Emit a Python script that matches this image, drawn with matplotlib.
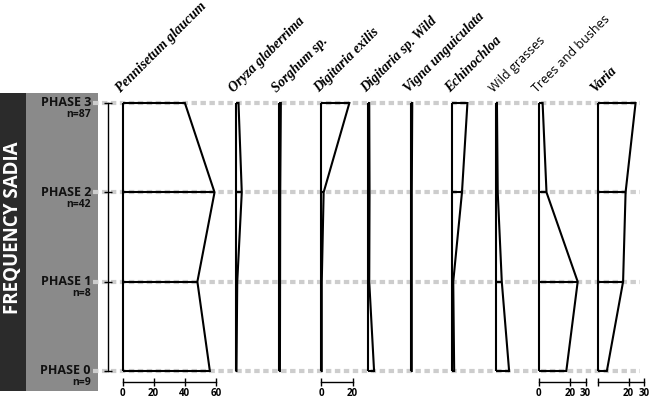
import matplotlib
matplotlib.use("Agg")
import matplotlib.pyplot as plt
from matplotlib.patches import Rectangle

# phases, bottom (oldest) to top
phases = [0, 1, 2, 3]
phase_labels = ["PHASE 0", "PHASE 1", "PHASE 2", "PHASE 3"]
sample_n = [9, 8, 42, 87]

taxa = ["Pennisetum glaucum", "Oryza glaberrima", "Sorghum sp.", "Digitaria exilis",
        "Digitaria sp. Wild", "Vigna unguiculata", "Echinochloa", "Wild grasses",
        "Trees and bushes", "Varia"]

# frequency (%) per phase 0..3
pennisetum = [56, 48, 59, 40]
oryza = [0.3, 0.8, 3.7, 1.6]
sorghum = [0.4, 0.5, 0.6, 1.0]
digitaria_exilis = [0.3, 0.3, 1.5, 18]
digitaria_wild = [3.7, 0.6, 0.8, 0.6]
vigna = [0.5, 0.5, 0.5, 0.8]
echinochloa = [1.2, 0.6, 6.2, 9.7]
wild_grasses = [8.6, 3.9, 1.3, 0.8]
trees_bushes = [17.7, 25, 5, 2.5]
varia = [6, 16.4, 18, 24.4]

series = [pennisetum, oryza, sorghum, digitaria_exilis, digitaria_wild,
          vigna, echinochloa, wild_grasses, trees_bushes, varia]

# scale bars under some panels
scale_ticks = {0: [0, 20, 40, 60], 3: [0, 20], 8: [0, 20, 30], 9: [0, 20, 30]}
scale_labels = {0: ["0", "20", "40", "60"], 3: ["0", "20"], 8: ["0", "20", "30"], 9: ["", "20", "30"]}

# layout (pixels on a 649x400 canvas)
W, H = 649, 400
panel_x0 = [122.5, 236, 279.3, 321.3, 368.3, 411, 452.3, 495.7, 538.7, 597.5]
px_per_unit = 1.56
y_top, y_bot = 103, 371
sans = ["Open Sans", "DejaVu Sans"]
serif = ["Liberation Serif", "DejaVu Serif"]

fig = plt.figure(figsize=(W / 100, H / 100), dpi=100)
bottom = 1 - y_bot / H
height = (y_bot - y_top) / H

# side boxes (behind the axes)
fig.add_artist(Rectangle((0, 1 - 391 / H), 26 / W, 298 / H, transform=fig.transFigure,
                         facecolor="#2b2b2b", edgecolor="none", zorder=-2))
fig.add_artist(Rectangle((26 / W, 1 - 391 / H), 72 / W, 298 / H, transform=fig.transFigure,
                         facecolor="#8a8a8a", edgecolor="none", zorder=-2))
fig.text(13.5 / W, 1 - 228 / H, "FREQUENCY SADIA", rotation=90, ha="center", va="center",
         color="white", fontsize=13.5, fontweight="bold", family=sans)

# background axes: dashed phase lines and labels
bg = fig.add_axes([0, bottom, 1, height])
bg.set_xlim(0, W)
bg.set_ylim(0, 3)
bg.axis("off")
bg.hlines(phases, 93, 640, colors="#cdcdcd", linewidth=3, linestyles=[(0, (1.3, 0.85))],
          capstyle="butt", clip_on=False)
for ph, lab, n in zip(phases, phase_labels, sample_n):
    bg.text(91, ph, lab, ha="right", va="center", fontsize=9, fontweight="bold",
            family=sans, color="#111111")
    bg.annotate(f"n={n}", xy=(91, ph), xytext=(0, -8.5), textcoords="offset points",
                ha="right", va="center", fontsize=7.5, fontweight="bold", family=sans,
                color="#111111", annotation_clip=False)

for i, (name, vals) in enumerate(zip(taxa, series)):
    xmax = 62 if i == 0 else 31
    ax = fig.add_axes([panel_x0[i] / W, bottom, xmax * px_per_unit / W, height])
    ax.set_xlim(0, xmax)
    ax.set_ylim(0, 3)
    ax.patch.set_visible(False)
    for s in ax.spines.values():
        s.set_visible(False)
    ax.set_yticks([])
    ax.set_xticks([])

    ax.vlines(0, 0, 3, colors="black", linewidth=1.5, clip_on=False)
    ax.hlines(phases, 0, vals, colors="black", linewidth=1.5, clip_on=False)
    ax.plot(vals, phases, color="black", linewidth=1.5, clip_on=False)

    if i in scale_ticks:
        ticks = scale_ticks[i]
        sp = ax.spines["bottom"]
        sp.set_visible(True)
        sp.set_position(("outward", 8))
        sp.set_bounds(ticks[0], ticks[-1])
        sp.set_linewidth(1.0)
        ax.set_xticks(ticks)
        ax.set_xticklabels(scale_labels[i])
        ax.tick_params(axis="x", direction="inout", length=6, width=1.0, pad=1,
                       labelsize=7)
        for t in ax.get_xticklabels():
            t.set_fontweight("bold")
            t.set_family(sans)

    if i == 0:
        # vertical phase scale on the left
        sp = ax.spines["left"]
        sp.set_visible(True)
        sp.set_position(("outward", 10.4))
        sp.set_bounds(0, 3)
        sp.set_linewidth(1.0)
        ax.set_yticks(phases)
        ax.set_yticklabels([])
        ax.tick_params(axis="y", direction="inout", length=6, width=1.0)

    if name in ("Wild grasses", "Trees and bushes"):
        kw = dict(family=sans, fontsize=9)
    else:
        kw = dict(family=serif, fontsize=10, fontweight="bold", fontstyle="italic")
    ax.annotate(name, xy=(0, 3), xytext=(-1.5, 7.5), textcoords="offset points",
                rotation=45, rotation_mode="anchor", ha="left", va="baseline",
                annotation_clip=False, **kw)

fig.savefig("out.png", dpi=100)
